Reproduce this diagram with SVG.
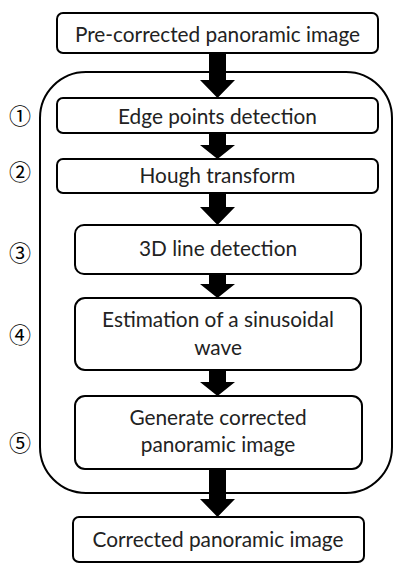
<svg xmlns="http://www.w3.org/2000/svg" width="395" height="563" viewBox="0 0 395 563">
<style>
.box{fill:#fff;stroke:#000;stroke-width:2}
.t{font-family:Lato,"Open Sans",sans-serif;font-size:20.8px;fill:#222;text-anchor:middle}
.n{font-family:"Noto Sans CJK JP",sans-serif;font-size:22px;fill:#000;text-anchor:middle}
.arrow{fill:#000}
</style>
<rect width="395" height="563" fill="#fff"/>
<g id="group">
<rect x="40" y="72" width="352" height="421" rx="46" ry="46" fill="none" stroke="#000" stroke-width="2"/>
</g>
<g id="connectors">
<path class="arrow" d="M209,53 H226 V80 H235 L217.5,98 L200,80 H209 Z"/>
<path class="arrow" d="M209,133 H226 V145 H235 L217.5,159 L200,145 H209 Z"/>
<path class="arrow" d="M209,193 H226 V207 H235 L217.5,225 L200,207 H209 Z"/>
<path class="arrow" d="M209,274 H226 V284 H235 L217.5,298 L200,284 H209 Z"/>
<path class="arrow" d="M209,370 H226 V382 H235 L217.5,396 L200,382 H209 Z"/>
<path class="arrow" d="M209,469 H226 V499 H235 L217.5,517 L200,499 H209 Z"/>
</g>
<g id="n0"><rect class="box" x="57" y="13" width="321" height="40" rx="6"/><text class="t" x="217.5" y="42">Pre-corrected panoramic image</text></g>
<g id="n1"><rect class="box" x="57" y="98" width="321" height="35" rx="6"/><text class="t" x="217.5" y="124">Edge points detection</text></g>
<g id="n2"><rect class="box" x="57" y="159" width="321" height="34" rx="6"/><text class="t" x="217.5" y="183">Hough transform</text></g>
<g id="n3"><rect class="box" x="75" y="225" width="286" height="49" rx="9"/><text class="t" x="218" y="256">3D line detection</text></g>
<g id="n4"><rect class="box" x="75" y="298" width="286" height="72" rx="10"/><text class="t" x="218" y="327">Estimation of a sinusoidal</text><text class="t" x="218" y="355">wave</text></g>
<g id="n5"><rect class="box" x="75" y="396" width="287" height="73" rx="10"/><text class="t" x="218" y="425">Generate corrected</text><text class="t" x="218" y="452">panoramic image</text></g>
<g id="n6"><rect class="box" x="73" y="517" width="291" height="45" rx="6"/><text class="t" x="218" y="547">Corrected panoramic image</text></g>
<g id="labels">
<text class="n" x="20" y="124">①</text>
<text class="n" x="20" y="180">②</text>
<text class="n" x="20" y="261">③</text>
<text class="n" x="20" y="343">④</text>
<text class="n" x="20" y="451">⑤</text>
</g>
</svg>
